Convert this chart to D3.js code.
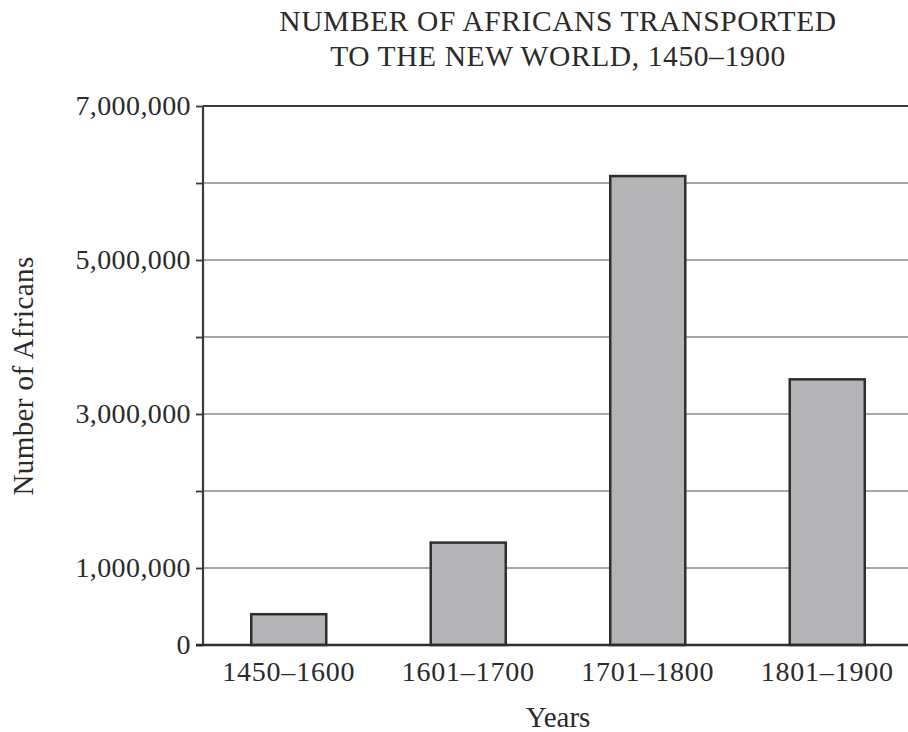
<!DOCTYPE html>
<html>
<head>
<meta charset="utf-8">
<script src="https://cdn.jsdelivr.net/npm/d3@7"></script>
<style>
  body { margin: 0; background: #fff; }
  text { font-family: "Liberation Serif", "Times New Roman", serif; fill: #2b2b2b; }
</style>
</head>
<body>
<div id="chart"></div>
<script>
/* Data ***********************************************************************/

var periods = ['1450\u20131600', '1601\u20131700', '1701\u20131800', '1801\u20131900'],
    africans = [400000, 1330000, 6090000, 3450000],
    ytick_values = [0, 1000000, 2000000, 3000000, 4000000, 5000000, 6000000, 7000000],
    ytick_labels = ['0', '1,000,000', '', '3,000,000', '', '5,000,000', '', '7,000,000'],
    title_lines = ['NUMBER OF AFRICANS TRANSPORTED', 'TO THE NEW WORLD, 1450\u20131900'];

/* Plot ***********************************************************************/

function build_plot()
{
    let width = 908,
        height = 732,
        left = 203,
        right = 908,
        top = 106,
        bottom = 645;

    let svg = d3.select('#chart').append('svg')
        .attr('width', width)
        .attr('height', height);

    let x = d3.scaleBand()
            .domain(periods)
            .range([199, 917])
            .paddingInner(0.582)
            .paddingOuter(0.291),
        y = d3.scaleLinear()
            .domain([0, 7000000])
            .range([bottom, top]);

    // grid lines
    svg.append('g').selectAll('line')
        .data(ytick_values.filter(v => v > 0 && v < 7000000)).enter()
        .append('line')
        .attr('x1', left).attr('x2', right)
        .attr('y1', d => y(d)).attr('y2', d => y(d))
        .attr('stroke', '#8a8a8a')
        .attr('stroke-width', 1.5);

    // top border line
    svg.append('line')
        .attr('x1', left).attr('x2', right)
        .attr('y1', y(7000000)).attr('y2', y(7000000))
        .attr('stroke', '#3a3a3a')
        .attr('stroke-width', 2.2);

    // bars
    svg.append('g').selectAll('rect')
        .data(periods).enter()
        .append('rect')
        .attr('x', d => x(d))
        .attr('width', x.bandwidth())
        .attr('y', (d, i) => y(africans[i]))
        .attr('height', (d, i) => y(0) - y(africans[i]))
        .attr('fill', '#b4b4b6')
        .attr('stroke', '#2e2e2e')
        .attr('stroke-width', 2.5);

    // y axis
    let yaxis = svg.append('g')
        .attr('transform', `translate(${left},0)`)
        .call(d3.axisLeft(y)
              .tickValues(ytick_values)
              .tickFormat((d, i) => ytick_labels[i])
              .tickSize(7)
              .tickPadding(5));
    yaxis.select('.domain').remove();
    yaxis.selectAll('.tick line').attr('stroke', '#3a3a3a').attr('stroke-width', 1.8);
    yaxis.selectAll('.tick text').attr('font-size', 28).attr('fill', '#2b2b2b')
        .attr('letter-spacing', 0.4)
        .attr('font-family', '"Liberation Serif", serif');
    yaxis.append('line')
        .attr('x1', 0).attr('x2', 0)
        .attr('y1', top).attr('y2', bottom)
        .attr('stroke', '#3a3a3a')
        .attr('stroke-width', 2.2);

    // x axis
    let xaxis = svg.append('g')
        .attr('transform', `translate(0,${bottom})`)
        .call(d3.axisBottom(x).tickSize(0).tickPadding(16));
    xaxis.select('.domain').remove();
    xaxis.selectAll('.tick text').attr('font-size', 28).attr('fill', '#2b2b2b')
        .attr('letter-spacing', 0.8)
        .attr('font-family', '"Liberation Serif", serif');
    xaxis.append('line')
        .attr('x1', left - 7).attr('x2', right)
        .attr('y1', 0).attr('y2', 0)
        .attr('stroke', '#2e2e2e')
        .attr('stroke-width', 2.4);

    // axis titles
    svg.append('text')
        .attr('x', 558).attr('y', 727)
        .attr('text-anchor', 'middle')
        .attr('font-size', 29)
        .text('Years');

    svg.append('text')
        .attr('transform', 'translate(33,376) rotate(-90)')
        .attr('text-anchor', 'middle')
        .attr('font-size', 29)
        .attr('letter-spacing', 0.4)
        .text('Number of Africans');

    // title
    svg.append('g').selectAll('text')
        .data(title_lines).enter()
        .append('text')
        .attr('x', 558)
        .attr('y', (d, i) => 31 + i * 35)
        .attr('text-anchor', 'middle')
        .attr('font-size', 29.5)
        .attr('letter-spacing', 0.6)
        .text(d => d);
}

build_plot();
</script>
</body>
</html>
